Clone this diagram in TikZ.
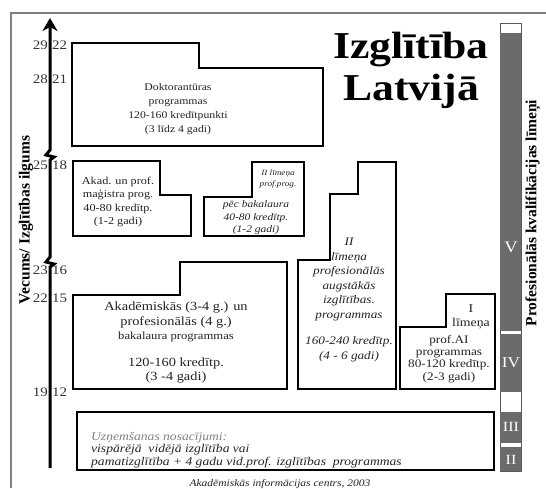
\documentclass[tikz,border=0pt]{standalone}
\usepackage{fontspec}
\setmainfont{Liberation Serif}[FakeStretch=1.15]
\newfontfamily\rotfont{Liberation Serif}
\usetikzlibrary{arrows.meta}
\newcommand\setfs[2]{\fontsize{#1}{#2}\selectfont}
\definecolor{bargray}{HTML}{6B6B6B}
\definecolor{txtgray}{HTML}{222222}
\definecolor{tickgray}{HTML}{333333}
\begin{document}
\begin{tikzpicture}[x=1pt,y=-1pt,
  box/.style={draw=black,line width=2pt,line join=miter},
  txt/.style={inner sep=0pt,align=center,text=txtgray},
  tickl/.style={inner sep=0pt,anchor=east,text=tickgray,font=\setfs{13}{14}},
  tickr/.style={inner sep=0pt,anchor=west,text=tickgray,font=\setfs{13}{14}},
  roman/.style={inner sep=0pt,text=white},
  axisline/.style={line width=3pt,line join=miter}]
\useasboundingbox (0,0) rectangle (546,488);
% frame
\draw[gray,line width=1.5pt] (11,488) -- (11,13) -- (546,13);
% axis
\coordinate (axtop) at (50,18);
\coordinate (axbot) at (50,468);
\draw[axisline,{Stealth[length=13pt,width=15pt,inset=4pt]}-] (axtop) -- (50,150) -- (46,155) -- (54,157) -- (50,160) -- (50,257) -- (46,262) -- (54,264) -- (50,267) -- (axbot);
% tick labels
\node[tickl] (a29) at (48,45) {29};  \node[tickr] (b22) at (52,45) {22};
\node[tickl] (a28) at (48,79) {28};  \node[tickr] (b21) at (52,79) {21};
\node[tickl] (a25) at (48,165) {25}; \node[tickr] (b18) at (52,165) {18};
\node[tickl] (a23) at (48,270) {23}; \node[tickr] (b16) at (52,270) {16};
\node[tickl] (a22) at (48,298) {22}; \node[tickr] (b15) at (52,298) {15};
\node[tickl] (a19) at (48,392) {19}; \node[tickr] (b12) at (52,392) {12};
% y label
\node[inner sep=0pt,rotate=90,font=\rotfont\bfseries\setfs{15.5}{16}] (ylab) at (26,220) {Vecums/ Izglītības ilgums};
% title
\node[inner sep=0pt,align=center,font=\bfseries\setfs{38}{42}] (title) at (411,70) {Izglītība\\Latvijā};
% boxes
\draw[box] (72,43) -- (199,43) -- (199,68) -- (323,68) -- (323,146) -- (72,146) -- cycle;
\draw[box] (73,161) -- (160,161) -- (160,195) -- (191,195) -- (191,236) -- (73,236) -- cycle;
\draw[box] (204,197) -- (252,197) -- (252,162) -- (304,162) -- (304,236) -- (204,236) -- cycle;
\draw[box] (358,162) -- (396,162) -- (396,389) -- (298,389) -- (298,260) -- (330,260) -- (330,194) -- (358,194) -- cycle;
\draw[box] (73,295) -- (180,295) -- (180,262) -- (287,262) -- (287,389) -- (73,389) -- cycle;
\draw[box] (446,294) -- (495,294) -- (495,389) -- (400,389) -- (400,327) -- (446,327) -- cycle;
\draw[box] (77,412) rectangle (494,470);
% texts
\node[txt,font=\setfs{10.2}{14}] (dok) at (178,109) {Doktorantūras\\programmas\\120-160 kredītpunkti\\(3 līdz 4 gadi)};
\node[txt,font=\setfs{10.6}{13.5}] (mag) at (118,202) {Akad. un prof.\\maģistra prog.\\40-80 kredītp.\\(1-2 gadi)};
\node[txt,font=\itshape\setfs{8}{10.5}] (p2a) at (278,179) {II līmeņa\\prof.prog.};
\node[txt,font=\itshape\setfs{10}{12.5}] (p2b) at (256,218) {pēc bakalaura\\40-80 kredītp.\\(1-2 gadi)};
\node[txt,font=\itshape\setfs{11.5}{14.5}] (big2) at (349,300) {II\\līmeņa\\profesionālās\\augstākās\\izglītības.\\programmas\\[12pt]160-240 kredītp.\\(4 - 6 gadi)};
\node[txt,font=\setfs{12.5}{14.5}] (bach) at (176,343) {Akadēmiskās (3-4 g.) un\\profesionālās (4 g.)\\{\setfs{11}{12}bakalaura programmas}\\[12pt]120-160 kredītp.\\(3 -4 gadi)};
\node[txt,font=\setfs{12}{14}] (l1a) at (471,317) {I\\līmeņa};
\node[txt,font=\setfs{11.5}{12.3}] (l1b) at (449,359) {prof.AI\\programmas\\80-120 kredītp.\\(2-3 gadi)};
\node[inner sep=0pt,anchor=west,align=left,text=txtgray,font=\itshape\setfs{11.8}{12.5}] (adm) at (91,450) {{\color{gray}Uzņemšanas nosacījumi:}\\vispārējā\ \ vidējā izglītība vai\\pamatizglītība + 4 gadu vid.prof. izglītības\ \ programmas};
\node[txt,font=\itshape\setfs{10}{11}] (foot) at (280,484) {Akadēmiskās informācijas centrs, 2003};
% level bar
\draw[gray!70!black,line width=0.8pt,fill=white] (500,23) rectangle (521,471);
\fill[bargray] (500,33) rectangle (521,331);
\fill[bargray] (500,334) rectangle (521,392);
\fill[bargray] (500,412) rectangle (521,443);
\fill[bargray] (500,447) rectangle (521,471);
\node[roman,font=\setfs{16}{16}] (rV) at (511,247) {V};
\node[roman,font=\setfs{15}{15}] (rIV) at (511,363) {IV};
\node[roman,font=\setfs{14}{14}] (rIII) at (511,427) {III};
\node[roman,font=\setfs{14}{14}] (rII) at (511,460) {II};
\node[inner sep=0pt,rotate=90,font=\rotfont\bfseries\setfs{15.5}{16}] (rlab) at (533,213) {Profesionālās kvalifikācijas līmeņi};
\end{tikzpicture}
\end{document}
